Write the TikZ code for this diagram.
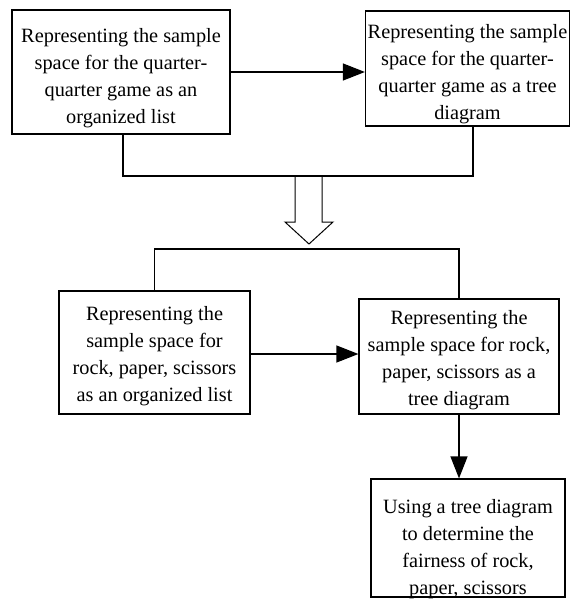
\documentclass[tikz,border=0pt]{standalone}
\usepackage{fontspec}
\setmainfont{Liberation Serif}
\usetikzlibrary{arrows.meta}

\begin{document}
\begin{tikzpicture}[x=1pt, y=-1pt,
        steptext/.style={align=center, inner sep=0pt, font=\fontsize{20.3}{27}\selectfont},
        stepbox/.style={draw, line width=1.2pt, steptext},
        link/.style={line width=1.2pt},
        flow/.style={line width=1.2pt, -{Triangle[length=22pt, width=17pt]}}]
            \useasboundingbox (0,0) rectangle (570,599);

            % quarter-quarter game
            \node[stepbox, minimum width=218pt, minimum height=124pt] (qlist) at (121,72)
                {\rule{0pt}{26pt}Representing the sample\\space for the quarter-\\quarter game as an\\organized list};
            \node[stepbox, minimum width=204pt, minimum height=115pt] (qtree) at (467.5,68.5)
                {\rule{0pt}{25pt}Representing the sample\\space for the quarter-\\quarter game as a tree\\diagram};
            \draw[flow] (qlist.east |- 0,72) -- (qtree.west |- 0,72);

            \coordinate (qa) at (123,176);
            \coordinate (qb) at (473,176);
            \draw[link] (qlist.south -| qa) -- (qa) -- (qb) -- (qtree.south -| qb);

            % hollow arrow between the two parts
            \draw[line width=1pt] (295,177) -- (295,222) -- (285,222) -- (309,244) -- (333,222)
                -- (322,222) -- (322,177);

            % rock, paper, scissors
            \node[stepbox, minimum width=191pt, minimum height=123pt] (rlist) at (154.5,352.5)
                {\rule{0pt}{21pt}Representing the\\sample space for\\rock, paper, scissors\\as an organized list};
            \node[stepbox, minimum width=200pt, minimum height=115pt] (rtree) at (459,356.5)
                {\rule{0pt}{22pt}Representing the\\sample space for rock,\\paper, scissors as a\\tree diagram};
            \node[draw, line width=1.2pt, minimum width=194pt, minimum height=118pt,
                label={[steptext, yshift=-11pt]center:{Using a tree diagram\\to determine the\\fairness of rock,\\paper, scissors}}]
                (rfair) at (468,538) {};

            \coordinate (ra) at (154.5,249);
            \draw[link] (rlist.north) -- (ra) -- (ra -| rtree.north) -- (rtree.north);
            \draw[flow] (rlist.east |- 0,354) -- (rtree.west |- 0,354);
            \draw[flow] (rtree.south) -- (rtree.south |- rfair.north);
        \end{tikzpicture}
\end{document}
